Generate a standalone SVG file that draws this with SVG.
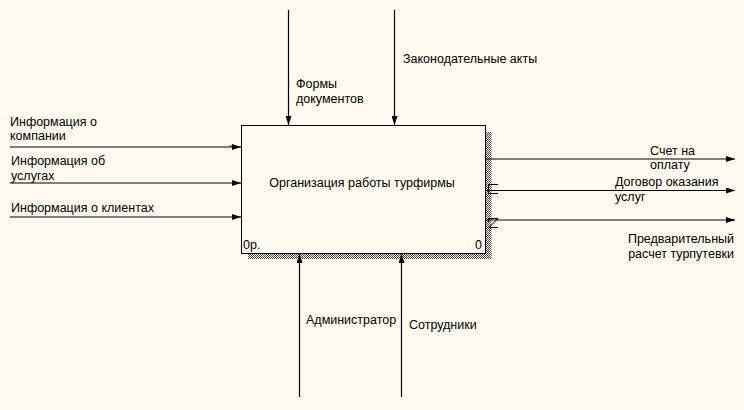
<svg xmlns="http://www.w3.org/2000/svg" width="744" height="410" viewBox="0 0 744 410">
<style>
text{font-family:"Liberation Sans",Arial,sans-serif;font-size:12.5px;fill:#000}
.ln{stroke:#000;stroke-width:1.2;fill:none}
.tn{stroke:#000;stroke-width:1;fill:none}
</style>
<defs>
<marker id="ah" markerWidth="9" markerHeight="6" refX="9" refY="3" orient="auto" markerUnits="userSpaceOnUse">
<path d="M0,0 L9,3 L0,6 Z" fill="#000"/>
</marker>
<pattern id="hatch" width="2" height="2" patternUnits="userSpaceOnUse">
<rect width="2" height="2" fill="#fffbf0"/>
<rect width="1" height="1" fill="#444"/>
<rect x="1" y="1" width="1" height="1" fill="#444"/>
</pattern>
</defs>
<rect width="744" height="410" fill="#fffbf0"/>

<g id="node-main">
<rect x="485.5" y="132" width="6" height="127" fill="url(#hatch)"/>
<rect x="248" y="253.5" width="243.5" height="5.5" fill="url(#hatch)"/>
<rect x="241.5" y="125.5" width="244" height="128" fill="#fffbf0" stroke="#000" stroke-width="1"/>
<text x="362" y="187" text-anchor="middle">Организация работы турфирмы</text>
<text x="243" y="249">0р.</text>
<text x="482" y="249" text-anchor="end">0</text>
</g>

<g id="connectors">
<line class="ln" x1="10" y1="147" x2="241" y2="147" marker-end="url(#ah)"/>
<path class="tn" d="M230,145 L234,148.5"/>
<line class="ln" x1="10" y1="183" x2="241" y2="183" marker-end="url(#ah)"/>
<line class="ln" x1="10" y1="217" x2="241" y2="217" marker-end="url(#ah)"/>

<line class="ln" x1="288.5" y1="10" x2="288.5" y2="125" marker-end="url(#ah)"/>
<line class="ln" x1="394.5" y1="10" x2="394.5" y2="125" marker-end="url(#ah)"/>

<line class="ln" x1="299.5" y1="397" x2="299.5" y2="254" marker-end="url(#ah)"/>
<line class="ln" x1="401.5" y1="397" x2="401.5" y2="254" marker-end="url(#ah)"/>

<line class="ln" x1="486" y1="159" x2="735" y2="159" marker-end="url(#ah)"/>
<line class="ln" x1="486" y1="190.5" x2="735" y2="190.5" marker-end="url(#ah)"/>
<path class="tn" d="M498,184.5 L488.5,184.5 L488.5,193.5 L498,193.5"/>
<line class="ln" x1="486" y1="220" x2="735" y2="220" marker-end="url(#ah)"/>
<path class="tn" d="M488.5,218.5 L498,218.5 L489,227.5 L498,227.5 M488.5,218.5 L488.5,222"/>
</g>

<g id="labels">
<text x="10" y="126">Информация о</text>
<text x="10" y="140">компании</text>
<text x="11" y="165">Информация об</text>
<text x="11" y="180">услугах</text>
<text x="11" y="212">Информация о клиентах</text>
<text x="296" y="88">Формы</text>
<text x="296" y="103">документов</text>
<text x="403" y="63">Законодательные акты</text>
<text x="306" y="324">Администратор</text>
<text x="409" y="329">Сотрудники</text>
<text x="650" y="155">Счет на</text>
<text x="650" y="169">оплату</text>
<text x="615" y="186">Договор оказания</text>
<text x="615" y="201">услуг</text>
<text x="734" y="243" text-anchor="end">Предварительный</text>
<text x="734" y="258" text-anchor="end">расчет турпутевки</text>
</g>
</svg>
